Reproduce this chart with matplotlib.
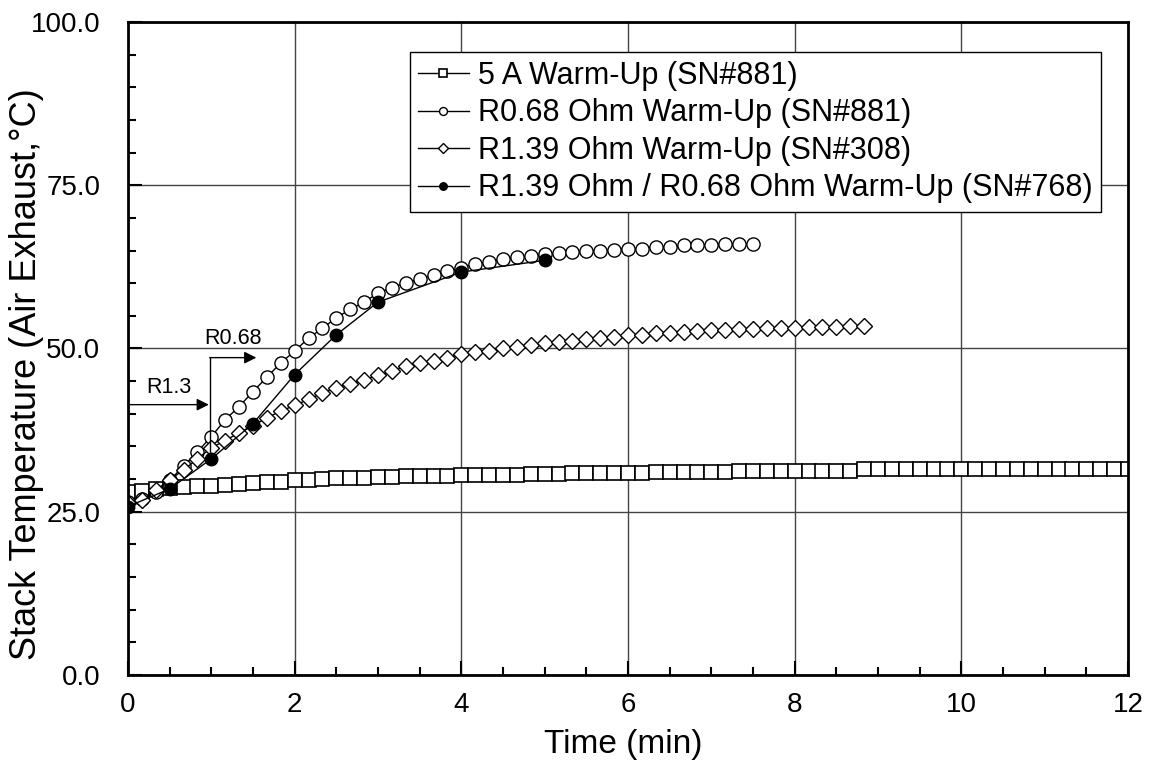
import numpy as np
import matplotlib
matplotlib.use('Agg')
import matplotlib.pyplot as plt
from matplotlib.ticker import MultipleLocator

plt.rcParams['font.family'] = ['Liberation Sans', 'DejaVu Sans']

# readings every 10 s (1/6 min)
step = 1 / 6

# 5 A warm-up, SN#881
temp_5a = [28.0, 28.2, 28.5, 28.7, 28.8, 28.9, 29.0, 29.1, 29.2, 29.4,
           29.5, 29.6, 29.8, 29.9, 30.0, 30.1, 30.1, 30.2, 30.3, 30.3,
           30.4, 30.4, 30.5, 30.5, 30.6, 30.6, 30.6, 30.7, 30.7, 30.8,
           30.8, 30.8, 30.9, 30.9, 30.9, 31.0, 31.0, 31.0, 31.1, 31.1,
           31.1, 31.1, 31.1, 31.1, 31.2, 31.2, 31.2, 31.3, 31.3, 31.3,
           31.3, 31.3, 31.3, 31.6, 31.6, 31.6, 31.6, 31.6, 31.6, 31.6,
           31.6, 31.6, 31.6, 31.6, 31.6, 31.6, 31.6, 31.6, 31.6, 31.6,
           31.6, 31.6, 31.6]

# R0.68 ohm warm-up, SN#881
temp_r068 = [26.5, 27.0, 28.0, 29.8, 32.0, 34.2, 36.5, 39.1, 41.1, 43.4,
             45.6, 47.8, 49.6, 51.6, 53.1, 54.7, 56.0, 57.1, 58.5, 59.3,
             60.1, 60.6, 61.3, 61.8, 62.4, 62.9, 63.3, 63.7, 64.0, 64.2,
             64.4, 64.6, 64.7, 64.9, 64.9, 65.1, 65.3, 65.3, 65.6, 65.6,
             65.8, 65.8, 65.9, 66.0, 66.0, 66.0]

# R1.39 ohm warm-up, SN#308
temp_r139 = [26.3, 26.8, 28.3, 29.9, 31.4, 33.1, 34.8, 35.9, 37.1, 38.2,
             39.4, 40.4, 41.3, 42.2, 43.2, 44.0, 44.6, 45.2, 45.9, 46.5,
             47.3, 47.8, 48.1, 48.6, 49.1, 49.4, 49.6, 50.0, 50.3, 50.6,
             50.8, 51.0, 51.2, 51.4, 51.6, 51.8, 52.0, 52.1, 52.3, 52.4,
             52.6, 52.7, 52.8, 52.9, 53.0, 53.0, 53.1, 53.2, 53.2, 53.3,
             53.3, 53.3, 53.4, 53.5]

# R1.39 / R0.68 ohm warm-up, SN#768
time_768 = [0, 0.5, 1.0, 1.5, 2.0, 2.5, 3.0, 4.0, 5.0]
temp_768 = [25.8, 28.5, 33.1, 38.5, 46.0, 52.1, 57.1, 61.7, 63.5]

labels = ['5 A Warm-Up (SN#881)',
          'R0.68 Ohm Warm-Up (SN#881)',
          'R1.39 Ohm Warm-Up (SN#308)',
          'R1.39 Ohm / R0.68 Ohm Warm-Up (SN#768)']

t_5a = np.arange(len(temp_5a)) * step
t_r068 = np.arange(len(temp_r068)) * step
t_r139 = np.arange(len(temp_r139)) * step

fig = plt.figure(figsize=(11.5, 7.66), dpi=100)
ax = fig.add_axes([0.1113, 0.1188, 0.8696, 0.8525])

ax.plot(t_5a, temp_5a, 'k-', lw=1, marker='s', ms=9.5, mfc='white',
        mec='black', mew=1.2, label=labels[0])
ax.plot(t_r068, temp_r068, 'k-', lw=1, marker='o', ms=9.5, mfc='white',
        mec='black', mew=1.0, label=labels[1])
ax.plot(t_r139, temp_r139, 'k-', lw=1, marker='D', ms=8.5, mfc='white',
        mec='black', mew=1.0, label=labels[2])
ax.plot(time_768, temp_768, 'k-', lw=1, marker='o', ms=9, mfc='black',
        mec='black', label=labels[3])

# load switch annotations
arr = dict(arrowstyle='-|>', color='black', lw=1, mutation_scale=18,
           shrinkA=0, shrinkB=0)
ax.annotate('', xy=(0.97, 41.4), xytext=(0, 41.4), arrowprops=arr)
ax.plot([0.98, 0.98], [33.4, 48.6], color='black', lw=1)
ax.annotate('', xy=(1.54, 48.6), xytext=(0.98, 48.6), arrowprops=arr)
ax.text(0.22, 44.0, 'R1.3', fontsize=15.5, va='center', ha='left')
ax.text(0.92, 51.6, 'R0.68', fontsize=15.5, va='center', ha='left')

ax.set_xlim(0, 12)
ax.set_ylim(0, 100)
ax.xaxis.set_major_locator(MultipleLocator(2))
ax.xaxis.set_minor_locator(MultipleLocator(0.5))
ax.yaxis.set_major_locator(MultipleLocator(25))
ax.yaxis.set_minor_locator(MultipleLocator(5))
ax.set_yticklabels([f'{v:.1f}' for v in ax.get_yticks()])
ax.grid(True, which='major', color='#444444', lw=1)

ax.tick_params(which='both', direction='in', top=False, right=False,
               width=1.5, labelsize=20)
ax.tick_params(which='major', length=10)
ax.tick_params(which='minor', length=6)
ax.tick_params(axis='y', pad=20)
ax.tick_params(axis='x', pad=12)
for s in ax.spines.values():
    s.set_linewidth(2)

ax.set_xlabel('Time (min)', fontsize=24)
ax.set_ylabel('Stack Temperature (Air Exhaust,°C)', fontsize=26)
ax.xaxis.set_label_coords(0.495, -0.082)
ax.yaxis.set_label_coords(-0.084, 0.46)

leg = ax.legend(loc='upper right', bbox_to_anchor=(0.973, 0.954),
                borderaxespad=0, fontsize=22, markerscale=0.6,
                handlelength=1.65, handletextpad=0.3, labelspacing=0.25,
                borderpad=0.28, fancybox=False, framealpha=1)
leg.get_frame().set_edgecolor('black')
leg.get_frame().set_linewidth(1)

fig.savefig('out.png', dpi=100)
